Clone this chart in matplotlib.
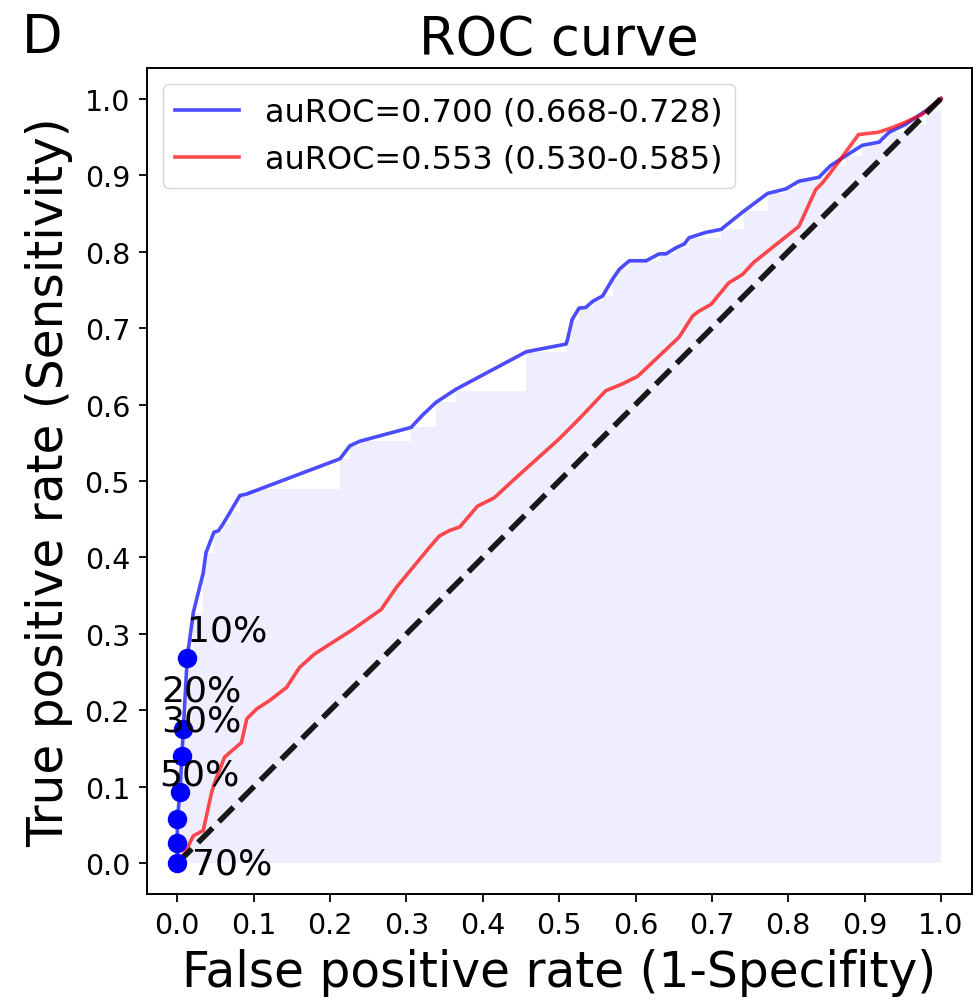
import matplotlib
matplotlib.use("Agg")
import matplotlib.pyplot as plt

# mean ROC of model 1 (blue)
blue_fpr = [0, 0, 0, 0.0035, 0.006, 0.008, 0.013, 0.021, 0.034, 0.0375,
            0.048, 0.054, 0.060, 0.069, 0.082, 0.091, 0.213, 0.226, 0.239, 0.306,
            0.322, 0.339, 0.365, 0.457, 0.509, 0.511, 0.517, 0.526, 0.535, 0.544,
            0.557, 0.570, 0.579, 0.592, 0.614, 0.631, 0.640, 0.653, 0.664, 0.670,
            0.692, 0.712, 0.742, 0.773, 0.797, 0.814, 0.840, 0.855, 0.875, 0.897,
            0.919, 0.932, 0.953, 0.980, 1.0]
blue_tpr = [0, 0.027, 0.058, 0.093, 0.141, 0.176, 0.269, 0.328, 0.380, 0.406,
            0.433, 0.435, 0.444, 0.459, 0.481, 0.483, 0.529, 0.546, 0.552, 0.570,
            0.587, 0.603, 0.620, 0.669, 0.679, 0.685, 0.711, 0.726, 0.727, 0.735,
            0.742, 0.764, 0.777, 0.788, 0.788, 0.797, 0.797, 0.805, 0.810, 0.818,
            0.825, 0.829, 0.853, 0.876, 0.882, 0.892, 0.897, 0.912, 0.925, 0.939,
            0.943, 0.956, 0.966, 0.984, 1.0]

# model 2 (red)
red_fpr = [0, 0.010, 0.021, 0.034, 0.045, 0.049, 0.062, 0.084, 0.091, 0.104,
           0.121, 0.143, 0.160, 0.180, 0.230, 0.267, 0.287, 0.330, 0.343, 0.356,
           0.370, 0.393, 0.415, 0.441, 0.500, 0.526, 0.561, 0.583, 0.603, 0.657,
           0.675, 0.683, 0.699, 0.722, 0.740, 0.755, 0.814, 0.836, 0.845, 0.862,
           0.892, 0.918, 0.936, 0.953, 0.975, 1.0]
red_tpr = [0, 0.014, 0.036, 0.043, 0.093, 0.106, 0.139, 0.158, 0.189, 0.202,
           0.213, 0.230, 0.256, 0.274, 0.306, 0.332, 0.361, 0.413, 0.428, 0.435,
           0.440, 0.467, 0.478, 0.502, 0.555, 0.581, 0.618, 0.627, 0.637, 0.688,
           0.716, 0.722, 0.731, 0.759, 0.770, 0.786, 0.833, 0.881, 0.890, 0.912,
           0.953, 0.956, 0.962, 0.969, 0.979, 1.0]

# raw step ROC used for the shaded area
fill_fpr = [0, 0.003, 0.006, 0.008, 0.013, 0.021, 0.034, 0.0375, 0.048, 0.060,
            0.069, 0.082, 0.091, 0.213, 0.226, 0.239, 0.306, 0.339, 0.365, 0.457,
            0.509, 0.517, 0.526, 0.544, 0.557, 0.570, 0.579, 0.592, 0.631, 0.653,
            0.670, 0.712, 0.742, 0.773, 0.797, 0.814, 0.840, 0.855, 0.875, 0.897,
            0.919, 0.932, 0.953, 0.980, 1.0]
fill_tpr = [0.058, 0.093, 0.141, 0.176, 0.269, 0.328, 0.380, 0.406, 0.433, 0.444,
            0.459, 0.481, 0.490, 0.529, 0.546, 0.552, 0.570, 0.603, 0.618, 0.669,
            0.685, 0.711, 0.726, 0.735, 0.742, 0.764, 0.777, 0.788, 0.797, 0.805,
            0.818, 0.829, 0.853, 0.876, 0.882, 0.892, 0.897, 0.912, 0.925, 0.939,
            0.943, 0.956, 0.966, 0.984, 1.0]

# operating points (top 10% ... 70%)
pt_fpr = [0.013, 0.008, 0.006, 0.0035, 0.0, 0.0, 0.0]
pt_tpr = [0.269, 0.176, 0.141, 0.093, 0.058, 0.027, 0.0]
pt_labels = ['10%', '20%', '30%', '50%', '70%']
pt_label_x = [0.013, -0.021, -0.021, -0.024, 0.019]
pt_label_y = [0.305, 0.226, 0.187, 0.116, 0.0]

legend_labels = ['auROC=0.700 (0.668-0.728)', 'auROC=0.553 (0.530-0.585)']

fig = plt.figure(figsize=(9.73, 10.03), dpi=100)
ax = fig.add_axes([0.1508, 0.1077, 0.8477, 0.8235])

ax.fill_between(fill_fpr, fill_tpr, step='post', color='blue', alpha=0.065, lw=0)
ax.plot(blue_fpr, blue_tpr, color='blue', alpha=0.7, lw=2.6, label=legend_labels[0])
ax.plot(red_fpr, red_tpr, color='red', alpha=0.7, lw=2.6, label=legend_labels[1])
ax.plot([0, 1], [0, 1], 'k--', lw=4, alpha=0.9)
ax.plot(pt_fpr, pt_tpr, 'o', color='blue', markersize=13, zorder=5)
for lab, tx, ty in zip(pt_labels, pt_label_x, pt_label_y):
    ax.text(tx, ty, lab, fontsize=26, ha='left', va='center', zorder=6)

ax.set_xlim(-0.04, 1.04)
ax.set_ylim(-0.04, 1.04)
ticks = [i / 10 for i in range(11)]
ax.set_xticks(ticks)
ax.set_yticks(ticks)
ax.set_xticklabels([f'{t:.1f}' for t in ticks])
ax.set_yticklabels([f'{t:.1f}' for t in ticks])
ax.tick_params(labelsize=20.5, length=6, width=1.3, pad=6)
for sp in ax.spines.values():
    sp.set_linewidth(1.4)

ax.set_xlabel('False positive rate (1-Specifity)', fontsize=35, labelpad=7)
ax.set_ylabel('True positive rate (Sensitivity)', fontsize=35, labelpad=8)
ax.set_title('ROC curve', fontsize=38, pad=10)
ax.legend(loc='upper left', fontsize=23)
fig.text(0.022, 0.947, 'D', fontsize=38, va='baseline')

fig.savefig('out.png', dpi=100)
